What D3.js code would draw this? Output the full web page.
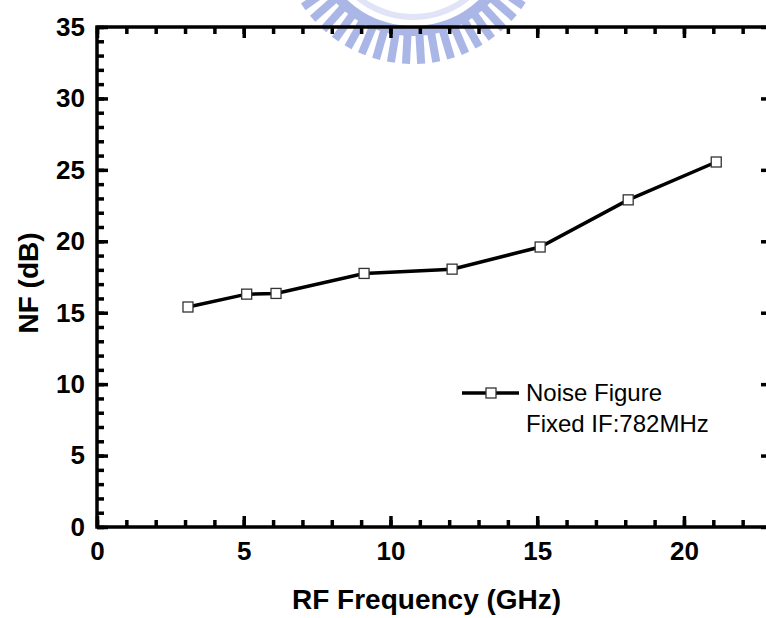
<!DOCTYPE html>
<html>
<head>
<meta charset="utf-8">
<script src="https://cdn.jsdelivr.net/npm/d3@7/dist/d3.min.js"></script>
<style>
  html, body { margin: 0; padding: 0; background: #fff; }
  svg { display: block; }
  text { font-family: Arial, "Liberation Sans", sans-serif; fill: #000; }
</style>
</head>
<body>
<script>
// ---- data ----
const rfFreq = [3.1, 5.1, 6.1, 9.1, 12.1, 15.1, 18.1, 21.1];
const noiseFigure = [15.4, 16.3, 16.35, 17.75, 18.05, 19.6, 22.9, 25.55];
const xMajorTicks = [0, 5, 10, 15, 20];
const yMajorTicks = [0, 5, 10, 15, 20, 25, 30, 35];
const xTitle = "RF Frequency (GHz)";
const yTitle = "NF (dB)";
const legendLines = ["Noise Figure", "Fixed IF:782MHz"];

const W = 766, H = 618;
const svg = d3.select("body").append("svg").attr("width", W).attr("height", H);

const x = d3.scaleLinear().domain([0, 23]).range([97, 772]);
const y = d3.scaleLinear().domain([0, 35]).range([527, 27]);

// ---- watermark (faint logo at top) ----
const wm = svg.append("g").attr("transform", "translate(413,-70)").attr("opacity", 0.7);
const toRad = a => a * Math.PI / 180;
wm.append("path")
  .attr("d", d3.arc()({innerRadius: 96, outerRadius: 106, startAngle: toRad(90 + 26), endAngle: toRad(270 - 26)}))
  .attr("fill", "#8799dc");
wm.append("path")
  .attr("d", d3.arc()({innerRadius: 84, outerRadius: 90, startAngle: toRad(90 + 30), endAngle: toRad(270 - 30)}))
  .attr("fill", "#d3daf3");
for (let a = 28; a <= 152; a += 6.5) {
  const w = 8;
  wm.append("rect")
    .attr("x", 104).attr("y", -w / 2).attr("width", 30).attr("height", w)
    .attr("fill", "#8799dc")
    .attr("transform", `rotate(${a})`);
}

// ---- frame ----
svg.append("rect")
  .attr("x", x(0)).attr("y", y(35))
  .attr("width", x(23) - x(0)).attr("height", y(0) - y(35))
  .attr("fill", "none").attr("stroke", "#000").attr("stroke-width", 3.5);

const minorX = d3.range(0, 24, 1);
const minorY = d3.range(0, 36, 1);

function styleAxis(g, sw) {
  g.select(".domain").remove();
  g.selectAll(".tick line").attr("stroke", "#000").attr("stroke-width", sw);
}

// bottom
svg.append("g").attr("transform", `translate(0,${y(0)})`)
  .call(d3.axisBottom(x).tickValues(minorX).tickSize(-7).tickFormat(""))
  .call(g => styleAxis(g, 3.5));
svg.append("g").attr("transform", `translate(0,${y(0)})`)
  .call(d3.axisBottom(x).tickValues(xMajorTicks).tickSize(-11).tickPadding(15).tickFormat(d3.format("d")))
  .call(g => styleAxis(g, 3.5))
  .call(g => g.selectAll("text").attr("font-size", 26).attr("font-weight", "bold")
    .attr("font-family", "Arial, 'Liberation Sans', sans-serif").attr("fill", "#000"));
// top
svg.append("g").attr("transform", `translate(0,${y(35)})`)
  .call(d3.axisTop(x).tickValues(minorX).tickSize(-7).tickFormat(""))
  .call(g => styleAxis(g, 3.5));
svg.append("g").attr("transform", `translate(0,${y(35)})`)
  .call(d3.axisTop(x).tickValues(xMajorTicks).tickSize(-11).tickFormat(""))
  .call(g => styleAxis(g, 3.5));
// left
svg.append("g").attr("transform", `translate(${x(0)},0)`)
  .call(d3.axisLeft(y).tickValues(minorY).tickSize(-7).tickFormat(""))
  .call(g => styleAxis(g, 3.5));
svg.append("g").attr("transform", `translate(${x(0)},0)`)
  .call(d3.axisLeft(y).tickValues(yMajorTicks).tickSize(-11).tickPadding(12).tickFormat(d3.format("d")))
  .call(g => styleAxis(g, 3.5))
  .call(g => g.selectAll("text").attr("font-size", 26).attr("font-weight", "bold")
    .attr("font-family", "Arial, 'Liberation Sans', sans-serif").attr("fill", "#000"));
// right
svg.append("g").attr("transform", `translate(${x(23)},0)`)
  .call(d3.axisRight(y).tickValues(yMajorTicks).tickSize(-11).tickFormat(""))
  .call(g => styleAxis(g, 3.5));

// ---- titles ----
svg.append("text")
  .attr("x", 292).attr("y", 609)
  .attr("font-size", 28).attr("font-weight", "bold")
  .text(xTitle);
svg.append("text")
  .attr("transform", "translate(38,283) rotate(-90)")
  .attr("text-anchor", "middle")
  .attr("font-size", 28).attr("font-weight", "bold")
  .text(yTitle);

// ---- series ----
const pts = rfFreq.map((f, i) => [f, noiseFigure[i]]);
svg.append("path")
  .datum(pts)
  .attr("d", d3.line().x(d => x(d[0])).y(d => y(d[1])))
  .attr("fill", "none").attr("stroke", "#000").attr("stroke-width", 3.5);
const ms = 10;
svg.selectAll("rect.mk").data(pts).join("rect")
  .attr("class", "mk")
  .attr("x", d => x(d[0]) - ms / 2).attr("y", d => y(d[1]) - ms / 2)
  .attr("width", ms).attr("height", ms)
  .attr("fill", "#fff").attr("stroke", "#333").attr("stroke-width", 1.3);

// ---- legend ----
const lg = svg.append("g");
lg.append("line").attr("x1", 462).attr("x2", 519).attr("y1", 393).attr("y2", 393)
  .attr("stroke", "#000").attr("stroke-width", 3.5);
lg.append("rect").attr("x", 491 - ms / 2).attr("y", 393 - ms / 2).attr("width", ms).attr("height", ms)
  .attr("fill", "#fff").attr("stroke", "#333").attr("stroke-width", 1.3);
lg.selectAll("text.lt").data(legendLines).join("text")
  .attr("class", "lt")
  .attr("x", 526).attr("y", (d, i) => 401 + i * 31)
  .attr("font-size", 24)
  .text(d => d);
</script>
</body>
</html>
